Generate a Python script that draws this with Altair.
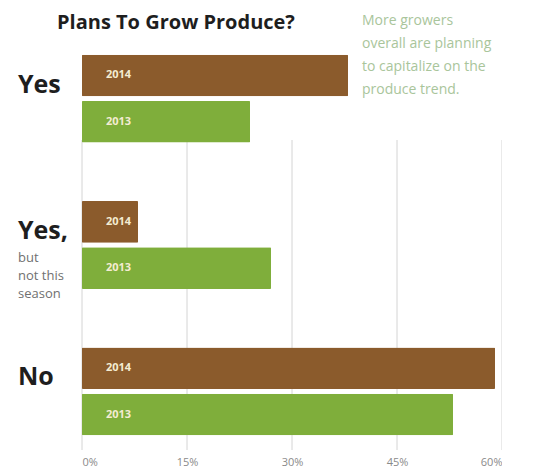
import altair as alt
import pandas as pd

categories = ["Yes", "Yes, but not this season", "No"]
main_labels = ["Yes", "Yes,", "No"]
sub_labels = ["", "but\nnot this\nseason", ""]
years = ["2014", "2013"]
values_2014 = [38, 8, 59]
values_2013 = [24, 27, 53]
ticks = [0, 15, 30, 45, 60]
note_lines = ["More growers", "overall are planning", "to capitalize on the", "produce trend."]
title_text = "Plans To Grow Produce?"

rows = []
for c, v14, v13 in zip(categories, values_2014, values_2013):
    rows.append({"category": c, "year": "2014", "value": v14})
    rows.append({"category": c, "year": "2013", "value": v13})
bars_df = pd.DataFrame(rows)
labels_df = pd.DataFrame({"category": categories, "main": main_labels, "sub": sub_labels})
ticks_df = pd.DataFrame({"tick": ticks})

W, H = 420, 410
yscale = alt.Scale(domain=categories, paddingInner=0.4, paddingOuter=0.1)
xscale = alt.Scale(domain=[0, 60], nice=False)
yoff_scale = alt.Scale(paddingInner=0.1)
xaxis = alt.Axis(values=ticks, labelExpr="datum.value + '%'", grid=False, domain=False,
                 ticks=False, title=None, labelColor="#8a8a8a", labelFontSize=11,
                 labelFont="Open Sans", labelPadding=6)

grid = alt.Chart(ticks_df).mark_rule(color="#d4d4d4", strokeWidth=1).encode(
    x=alt.X("tick:Q", scale=xscale, axis=xaxis),
    y=alt.value(100),
    y2=alt.value(H),
)

bars = alt.Chart(bars_df).mark_bar(cornerRadius=1).encode(
    x=alt.X("value:Q", scale=xscale, axis=xaxis),
    y=alt.Y("category:N", scale=yscale, axis=None, sort=categories),
    yOffset=alt.YOffset("year:N", sort=years, scale=yoff_scale),
    color=alt.Color("year:N", scale=alt.Scale(domain=years, range=["#8b5b2c", "#7fae3b"]), legend=None),
)

bar_text = alt.Chart(bars_df).mark_text(align="left", baseline="middle", color="#f4ecd2",
                                        fontSize=11, fontWeight="bold", font="Open Sans").encode(
    x=alt.value(24),
    y=alt.Y("category:N", scale=yscale, axis=None, sort=categories),
    yOffset=alt.YOffset("year:N", sort=years, scale=yoff_scale),
    text="year:N",
)

main_text = alt.Chart(labels_df).mark_text(align="left", baseline="middle", fontSize=25,
                                           fontWeight="bold", font="Open Sans", color="#1e1e1e",
                                           dy=-14).encode(
    x=alt.value(-64),
    y=alt.Y("category:N", scale=yscale, axis=None, sort=categories),
    text="main:N",
)

sub_text = alt.Chart(labels_df).mark_text(align="left", baseline="top", fontSize=13,
                                          font="Open Sans", color="#707070", lineBreak="\n",
                                          lineHeight=18, dy=7).encode(
    x=alt.value(-64),
    y=alt.Y("category:N", scale=yscale, axis=None, sort=categories),
    text="sub:N",
)

note = alt.Chart(pd.DataFrame({"t": [0]})).mark_text(
    align="left", baseline="top", fontSize=14, font="Open Sans", color="#a9c59b", lineHeight=23,
).encode(
    x=alt.value(280),
    y=alt.value(-26),
    text=alt.value(note_lines),
)

title = alt.Chart(pd.DataFrame({"t": [0]})).mark_text(
    align="left", baseline="alphabetic", fontSize=20, fontWeight="bold", font="Open Sans",
    color="#1e1e1e",
).encode(
    x=alt.value(-25),
    y=alt.value(-11),
    text=alt.value(title_text),
)

chart = alt.layer(grid, bars, bar_text, main_text, sub_text, note, title).properties(
    width=W,
    height=H,
    autosize=alt.AutoSizeParams(type="none"),
    padding={"left": 74, "top": 32, "right": 0, "bottom": 24},
).configure_view(stroke=None)

chart.save("out.html", embed_options={"renderer": "svg", "actions": False})
